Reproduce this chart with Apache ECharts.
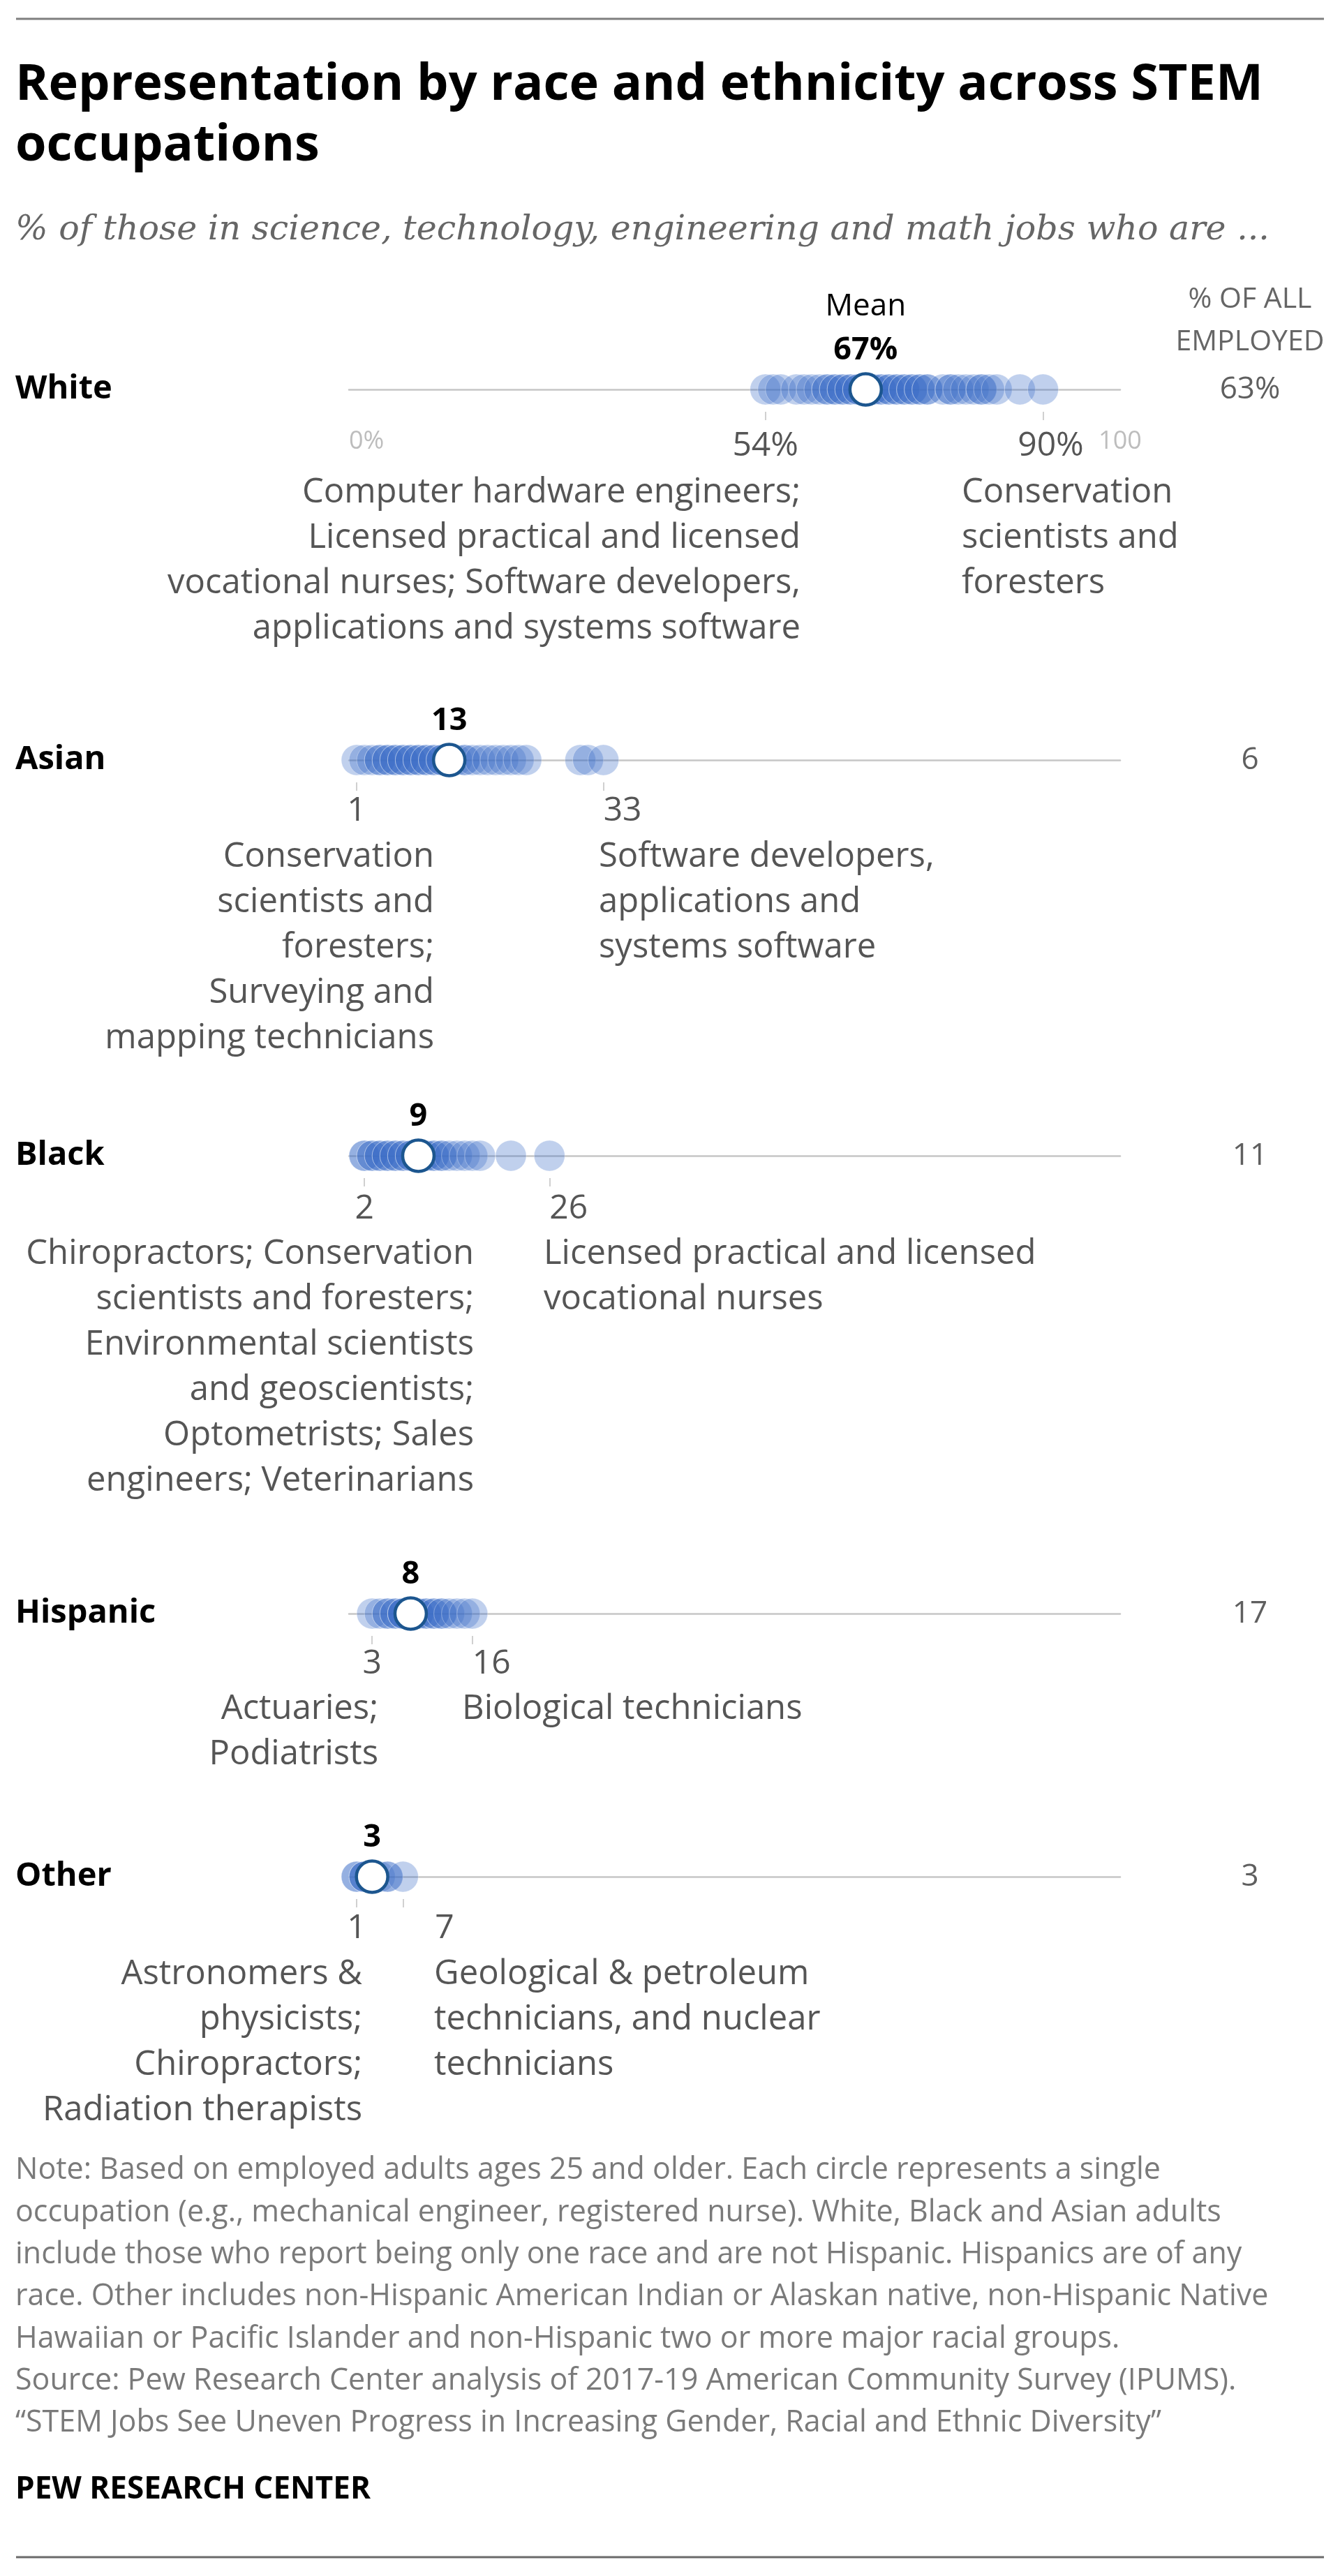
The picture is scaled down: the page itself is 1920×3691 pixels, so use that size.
<!DOCTYPE html>
<html><head><meta charset="utf-8">
<script src="https://cdn.jsdelivr.net/npm/echarts@6/dist/echarts.min.js"></script>
<style>html,body{margin:0;padding:0;background:#fff}#c{width:1920px;height:3691px}</style>
</head><body><div id="c"></div>
<script>
// ---------- DATA ----------
const groups = ['White', 'Asian', 'Black', 'Hispanic', 'Other'];
const whiteValues = [54, 55, 56, 58, 59, 60, 61, 62, 62, 63, 63, 64, 64, 65, 65, 66, 66, 67, 67, 68, 68, 69, 69, 70, 70, 71, 71, 72, 72, 73, 73, 74, 74, 75, 75, 77, 78, 78, 79, 80, 81, 82, 82, 83, 84, 87, 90];
const asianValues = [1, 2, 3, 4, 4, 5, 5, 6, 6, 7, 7, 8, 8, 9, 9, 10, 10, 11, 11, 12, 12, 13, 14, 15, 15, 16, 17, 18, 19, 20, 21, 22, 23, 30, 31, 33];
const blackValues = [2, 2, 3, 3, 4, 4, 5, 5, 6, 6, 7, 7, 8, 8, 9, 10, 10, 11, 11, 12, 12, 13, 14, 15, 16, 17, 21, 26];
const hispanicValues = [3, 4, 5, 5, 6, 6, 7, 7, 7, 8, 8, 9, 9, 10, 10, 11, 11, 12, 12, 13, 14, 15, 16];
const otherValues = [1, 1, 2, 2, 2, 3, 4, 5, 5, 7];
const meanValues = [67, 13, 9, 8, 3];
const meanLabels = ['67%', '13', '9', '8', '3'];
const minValues = [54, 1, 2, 3, 1];
const maxValues = [90, 33, 26, 16, 7];
const minLabels = ['54%', '1', '2', '3', '1'];
const maxLabels = ['90%', '33', '26', '16', '7'];
const allEmployed = ['63%', '6', '11', '17', '3'];
const scaleEndLabels = ['0%', '100'];
const minOccupations = [
  'Computer hardware engineers;\nLicensed practical and licensed\nvocational nurses; Software developers,\napplications and systems software',
  'Conservation\nscientists and\nforesters;\nSurveying and\nmapping technicians',
  'Chiropractors; Conservation\nscientists and foresters;\nEnvironmental scientists\nand geoscientists;\nOptometrists; Sales\nengineers; Veterinarians',
  'Actuaries;\nPodiatrists',
  'Astronomers &\nphysicists;\nChiropractors;\nRadiation therapists'
];
const maxOccupations = [
  'Conservation\nscientists and\nforesters',
  'Software developers,\napplications and\nsystems software',
  'Licensed practical and licensed\nvocational nurses',
  'Biological technicians',
  'Geological & petroleum\ntechnicians, and nuclear\ntechnicians'
];
const titleText = 'Representation by race and ethnicity across STEM\noccupations';
const subtitleText = '% of those in science, technology, engineering and math jobs who are ...';
const headerText = '% OF ALL\nEMPLOYED';
const noteLines = [
  'Note: Based on employed adults ages 25 and older. Each circle represents a single',
  'occupation (e.g., mechanical engineer, registered nurse). White, Black and Asian adults',
  'include those who report being only one race and are not Hispanic. Hispanics are of any',
  'race. Other includes non-Hispanic American Indian or Alaskan native, non-Hispanic Native',
  'Hawaiian or Pacific Islander and non-Hispanic two or more major racial groups.',
  'Source: Pew Research Center analysis of 2017-19 American Community Survey (IPUMS).',
  '\u201cSTEM Jobs See Uneven Progress in Increasing Gender, Racial and Ethnic Diversity\u201d'
];
const sourceLabel = 'PEW RESEARCH CENTER';
const valuesByGroup = [whiteValues, asianValues, blackValues, hispanicValues, otherValues];

// ---------- LAYOUT ----------
const FONT = '"Open Sans", Roboto, sans-serif';
const rowY = [558, 1089, 1656, 2312, 2689];
const labelDY = [81, 73, 76, 72, 74];
const maxAlign = ['center', 'left', 'left', 'left', 'left'];
const maxPad = [22, 0, 0, 0, 46];
const minAnno = [[1147, 706], [622, 1228], [679, 1797], [542, 2449], [519, 2829]];
const maxAnno = [[1378, 706], [858, 1228], [779, 1797], [662, 2449], [622, 2829]];
const ANNO_LH = 65, ANNO_FS = 49, HALF = 36;

const chart = echarts.init(document.getElementById('c'), null, {renderer: 'canvas', width: 1920, height: 3691});

const grid = [], xAxis = [], yAxis = [], series = [], graphic = [];
groups.forEach((g, i) => {
  grid.push({left: 500, right: 315, top: rowY[i] - HALF, height: HALF * 2});
  // main line axis
  xAxis.push({
    gridIndex: i, type: 'value', min: 0, max: 100, position: 'bottom',
    axisLine: {show: true, onZero: true, lineStyle: {color: '#c6c6c6', width: 2.5}},
    axisTick: {show: false}, splitLine: {show: false},
    axisLabel: i === 0 ? {
      show: true, customValues: [0, 100],
      formatter: v => (v === 0 ? scaleEndLabels[0] : scaleEndLabels[1]),
      margin: 20, color: '#bdbdbd', fontSize: 36, lineHeight: 38, fontFamily: FONT,
      alignMinLabel: 'left', alignMaxLabel: 'center'
    } : {show: false}
  });
  // min axis
  xAxis.push({
    gridIndex: i, type: 'value', min: 0, max: 100, position: 'bottom', offset: -4,
    axisLine: {show: false, onZero: false}, splitLine: {show: false},
    axisTick: {show: true, customValues: [minValues[i]], length: 12, lineStyle: {color: '#d0d0d0', width: 2}},
    axisLabel: {show: true, customValues: [minValues[i]], formatter: () => minLabels[i],
      margin: labelDY[i] - 56, color: '#555', fontSize: 48, lineHeight: 48, fontFamily: FONT, align: 'center'}
  });
  // max axis
  xAxis.push({
    gridIndex: i, type: 'value', min: 0, max: 100, position: 'bottom', offset: -4,
    axisLine: {show: false, onZero: false}, splitLine: {show: false},
    axisTick: {show: true, customValues: [maxValues[i]], length: 12, lineStyle: {color: '#d0d0d0', width: 2}},
    axisLabel: {show: true, customValues: [maxValues[i]], formatter: () => maxLabels[i],
      margin: labelDY[i] - 56, color: '#555', fontSize: 48, lineHeight: 48, fontFamily: FONT,
      align: maxAlign[i], padding: [0, 0, 0, maxPad[i]]}
  });
  // value y axis (positions dots)
  yAxis.push({gridIndex: i, type: 'value', min: -1, max: 1, show: false, axisLine: {onZero: false}});
  // row name
  yAxis.push({gridIndex: i, type: 'category', data: [groups[i]], position: 'left',
    axisLine: {show: false, onZero: false}, axisTick: {show: false}, splitLine: {show: false},
    axisLabel: {margin: 478, align: 'left', fontSize: 47, fontWeight: 'bold', color: '#000', fontFamily: FONT}});
  // % of all employed
  yAxis.push({gridIndex: i, type: 'category', data: [allEmployed[i]], position: 'right',
    axisLine: {show: false, onZero: false}, axisTick: {show: false}, splitLine: {show: false},
    axisLabel: {margin: 186, align: 'center', fontSize: 44, color: '#5f5f5f', fontFamily: FONT}});

  series.push({
    type: 'scatter', xAxisIndex: i * 3, yAxisIndex: i * 3, clip: false, silent: true, z: 2,
    symbolSize: 44,
    itemStyle: {color: '#3a6ec8', opacity: 0.32, borderColor: '#ffffff', borderWidth: 1},
    emphasis: {disabled: true},
    data: valuesByGroup[i].map(v => [v, 0])
  });
  series.push({
    type: 'scatter', xAxisIndex: i * 3, yAxisIndex: i * 3, clip: false, silent: true, z: 3,
    symbolSize: 45,
    itemStyle: {color: '#ffffff', borderColor: '#1c568f', borderWidth: 4.5, opacity: 1},
    emphasis: {disabled: true},
    label: {
      show: true, position: 'top', distance: 7,
      formatter: () => (i === 0 ? '{a|Mean}\n{b|' + meanLabels[i] + '}' : '{b|' + meanLabels[i] + '}'),
      rich: {
        a: {fontSize: 44, color: '#000', fontFamily: FONT, lineHeight: 78},
        b: {fontSize: 45, fontWeight: 'bold', color: '#000', fontFamily: FONT, lineHeight: 48}
      }
    },
    data: [[meanValues[i], 0]]
  });

  graphic.push({type: 'text', x: minAnno[i][0], y: minAnno[i][1] - ANNO_LH / 2, silent: true,
    style: {text: minOccupations[i], fill: '#555', font: ANNO_FS + 'px ' + FONT, lineHeight: ANNO_LH,
      align: 'right', textAlign: 'right', verticalAlign: 'top', textVerticalAlign: 'top'}});
  graphic.push({type: 'text', x: maxAnno[i][0], y: maxAnno[i][1] - ANNO_LH / 2, silent: true,
    style: {text: maxOccupations[i], fill: '#555', font: ANNO_FS + 'px ' + FONT, lineHeight: ANNO_LH,
      align: 'left', textAlign: 'left', verticalAlign: 'top', textVerticalAlign: 'top'}});
});

graphic.push({type: 'line', silent: true, shape: {x1: 23, y1: 27, x2: 1897, y2: 27}, style: {stroke: '#7f7f7f', lineWidth: 3}});
graphic.push({type: 'line', silent: true, shape: {x1: 23, y1: 3664, x2: 1897, y2: 3664}, style: {stroke: '#6b6b6b', lineWidth: 3}});
graphic.push({type: 'text', x: 1791, y: 429 - 30.5, silent: true,
  style: {text: headerText, fill: '#666', font: '41px ' + FONT, lineHeight: 61,
    align: 'center', textAlign: 'center', verticalAlign: 'top', textVerticalAlign: 'top'}});

chart.setOption({
  animation: false,
  backgroundColor: '#fff',
  title: [
    {text: titleText, left: 22, top: 79, padding: 0,
      textStyle: {fontSize: 72, fontWeight: 'bold', lineHeight: 87, color: '#000', fontFamily: FONT}},
    {text: subtitleText, left: 22, top: 302, padding: 0,
      textStyle: {fontSize: 49, fontStyle: 'italic', fontWeight: 'normal', fontFamily: '"DejaVu Serif", serif', color: '#666', lineHeight: 56}},
    {text: noteLines.join('\n'), left: 22, top: 3080, padding: 0,
      textStyle: {fontSize: 43, fontWeight: 'normal', color: '#7a7a7a', lineHeight: 60.3, fontFamily: FONT}},
    {text: sourceLabel, left: 22, top: 3544, padding: 0,
      textStyle: {fontSize: 44, fontWeight: 'bold', color: '#000', lineHeight: 46, fontFamily: FONT}}
  ],
  grid, xAxis, yAxis, series, graphic
});
</script>
</body></html>
